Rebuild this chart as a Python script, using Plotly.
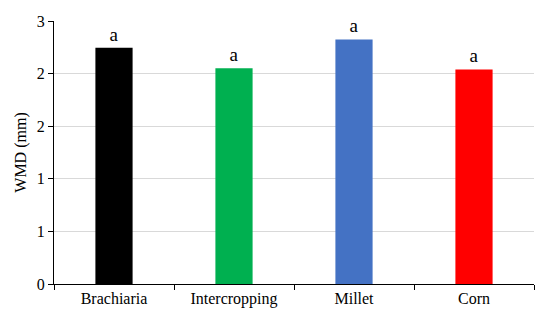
import plotly.graph_objects as go

categories = ["Brachiaria", "Intercropping", "Millet", "Corn"]
wmd_values = [2.245, 2.05, 2.325, 2.04]
letters = ["a", "a", "a", "a"]
bar_colors = ["#000000", "#00b050", "#4472c4", "#ff0000"]
y_tickvals = [0, 0.5, 1.0, 1.5, 2.0, 2.5]
y_ticktext = ["0", "1", "1", "2", "2", "3"]

font_family = "Liberation Serif, Times New Roman, serif"

fig = go.Figure(
    go.Bar(
        x=categories,
        y=wmd_values,
        marker=dict(color=bar_colors, line=dict(width=0)),
        text=letters,
        textposition="outside",
        constraintext="none",
        cliponaxis=False,
        textfont=dict(family=font_family, size=19, color="#000000"),
        width=0.31,
    )
)

fig.update_layout(
    width=550,
    height=325,
    margin=dict(l=54, r=16, t=21, b=41),
    paper_bgcolor="white",
    plot_bgcolor="white",
    showlegend=False,
    font=dict(family=font_family, size=16, color="#000000"),
)

fig.update_xaxes(
    type="category",
    automargin=False,
    showline=True,
    linecolor="#000000",
    linewidth=1,
    ticks="outside",
    tickson="boundaries",
    ticklen=5,
    tickcolor="#000000",
    showgrid=False,
    tickfont=dict(family=font_family, size=16, color="#000000"),
)

fig.update_yaxes(
    range=[0, 2.5],
    automargin=False,
    tickvals=y_tickvals,
    ticktext=y_ticktext,
    showline=True,
    linecolor="#000000",
    linewidth=1,
    ticks="outside",
    ticklen=5,
    tickcolor="#000000",
    showgrid=True,
    gridcolor="#d9d9d9",
    gridwidth=1,
    zeroline=False,
    tickfont=dict(family=font_family, size=16, color="#000000"),
    title=dict(text="WMD (mm)", font=dict(family=font_family, size=16, color="#000000"), standoff=6),
)

fig.write_html(
    "out.html",
    config={"displayModeBar": False},
    post_script="document.body.style.margin='0';document.body.style.overflow='hidden';",
)
